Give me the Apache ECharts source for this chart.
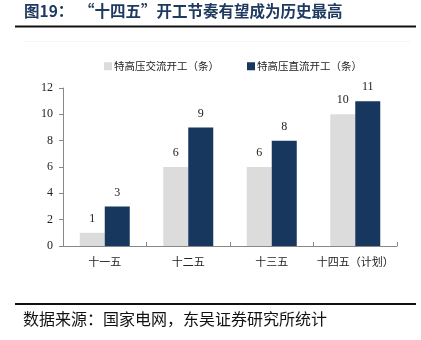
<!DOCTYPE html>
<html><head><meta charset="utf-8">
<script src="https://cdn.jsdelivr.net/npm/echarts@6/dist/echarts.min.js"></script>
<style>html,body{margin:0;padding:0;background:#fff}#c{width:421px;height:340px}</style>
</head><body><div id="c"></div>
<script>
const categories = ['十一五', '十二五', '十三五', '十四五（计划）'];
const acValues = [1, 6, 6, 10];
const dcValues = [3, 9, 8, 11];
const seriesNames = ['特高压交流开工（条）', '特高压直流开工（条）'];
const yTicks = { min: 0, max: 12, interval: 2 };
const titleText = '“十四五”开工节奏有望成为历史最高';
const titlePrefix = '图19：';
const sourceText = '数据来源：国家电网，东吴证券研究所统计';

const chart = echarts.init(document.getElementById('c'), null, { renderer: 'canvas' });
const serif = '"Liberation Serif", "Times New Roman", serif';
const cjk = '"Noto Sans CJK SC", sans-serif';
const labelStyle = { show: true, position: 'top', distance: 8, fontFamily: serif, fontSize: 12, color: '#222' };
chart.setOption({
  animation: false,
  backgroundColor: '#fff',
  graphic: [
    { type: 'text', left: 24, top: 3, style: { text: titlePrefix, font: 'bold 15.5px ' + cjk, fill: '#1f3a60' } },
    { type: 'text', left: 79, top: 3, style: { text: titleText, font: 'bold 15.5px ' + cjk, fill: '#1f3a60' } },
    { type: 'rect', shape: { x: 15, y: 25.5, width: 401, height: 2 }, style: { fill: '#111' } },
    { type: 'rect', shape: { x: 23, y: 41, width: 387, height: 0.8 }, style: { fill: '#f2f2f2' } },
    { type: 'rect', shape: { x: 15, y: 303, width: 401, height: 2 }, style: { fill: '#111' } },
    { type: 'text', left: 23, top: 311, style: { text: sourceText, font: '16px ' + cjk, fill: '#111' } }
  ],
  legend: {
    top: 56, left: 99,
    itemWidth: 8, itemHeight: 8, itemGap: 28,
    icon: 'rect',
    textStyle: { fontFamily: cjk, fontSize: 10.5, color: '#222', padding: [0, 0, 0, -3] },
    data: seriesNames
  },
  grid: { left: 63, right: 24, top: 88, bottom: 94 },
  xAxis: {
    type: 'category', data: categories,
    axisLine: { lineStyle: { color: '#888', width: 1 } },
    axisTick: { show: true, inside: true, length: 4, lineStyle: { color: '#888' } },
    axisLabel: { interval: 0, margin: 10, fontFamily: cjk, fontSize: 11, color: '#222' }
  },
  yAxis: {
    type: 'value', min: yTicks.min, max: yTicks.max, interval: yTicks.interval,
    axisLine: { show: true, lineStyle: { color: '#888', width: 1 } },
    axisTick: { show: true, length: 4, lineStyle: { color: '#888' } },
    splitLine: { show: false },
    axisLabel: { margin: 10, fontFamily: serif, fontSize: 12, color: '#222' }
  },
  series: [
    { name: seriesNames[0], type: 'bar', data: acValues, barWidth: 25, barGap: '0%', itemStyle: { color: '#dcdcdc' }, label: labelStyle },
    { name: seriesNames[1], type: 'bar', data: dcValues, barWidth: 25, barGap: '0%', itemStyle: { color: '#17375e' }, label: labelStyle }
  ]
});
</script></body></html>
